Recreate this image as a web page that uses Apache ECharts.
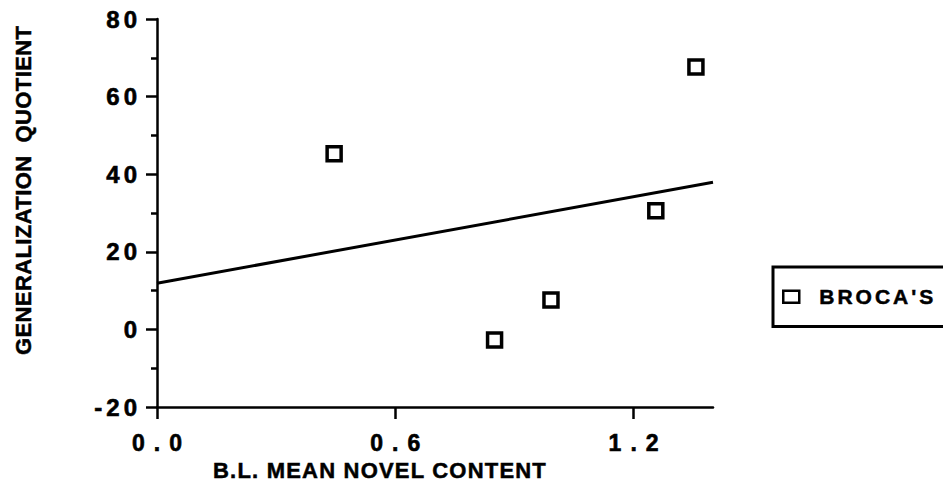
<!DOCTYPE html>
<html>
<head>
<meta charset="utf-8">
<script src="https://cdn.jsdelivr.net/npm/echarts@6/dist/echarts.min.js"></script>
<style>
  html, body { margin: 0; padding: 0; background: #fff; }
  #chart { width: 943px; height: 500px; }
</style>
</head>
<body>
<div id="chart"></div>
<script>
// Baseline mean novel content vs. generalization quotient, Broca's group
const subjectX = [0.446, 0.850, 0.992, 1.256, 1.357];
const subjectY = [45.3, -2.7, 7.6, 30.6, 67.6];

// Least-squares line as plotted (end points across the x range)
const fitX = [0, 1.4];
const fitY = [11.9, 37.9];

const xTickValues = [0, 0.6, 1.2];
const yTickValues = [-20, 0, 20, 40, 60, 80];

const seriesName = "BROCA'S";
const xTitle = 'B.L. MEAN NOVEL CONTENT';
const yTitle = 'GENERALIZATION  QUOTIENT';

const FONT = "'Liberation Sans', Arial, Helvetica, sans-serif";
const INK = '#000';

const chart = echarts.init(document.getElementById('chart'), null, { renderer: 'svg' });

const option = {
  animation: false,
  backgroundColor: '#fff',
  textStyle: { fontFamily: FONT, color: INK },
  grid: { left: 157, right: 230, top: 19, bottom: 93 },
  xAxis: {
    type: 'value',
    min: 0,
    max: 1.4,
    interval: 0.2,
    axisLine: { onZero: false, lineStyle: { color: INK, width: 2.5 } },
    axisTick: { customValues: xTickValues, length: 12, lineStyle: { color: INK, width: 2.5 } },
    axisLabel: {
      customValues: xTickValues,
      formatter: v => v.toFixed(1),
      margin: 24,
      fontSize: 23,
      fontWeight: 'bold',
      color: INK,
      fontFamily: FONT,
      textBorderColor: INK,
      textBorderWidth: 0.6
    },
    splitLine: { show: false }
  },
  yAxis: {
    type: 'value',
    min: -20,
    max: 80,
    interval: 20,
    axisLine: { show: true, onZero: false, lineStyle: { color: INK, width: 2.5 } },
    axisTick: { show: true, length: 11, lineStyle: { color: INK, width: 2.5 } },
    minorTick: { show: true, splitNumber: 2, length: 6, lineStyle: { color: INK, width: 2.5 } },
    axisLabel: {
      formatter: v => (yTickValues.indexOf(v) >= 0 ? String(v) : ''),
      margin: 20,
      fontSize: 24,
      fontWeight: 'bold',
      color: INK,
      fontFamily: FONT,
      textBorderColor: INK,
      textBorderWidth: 0.6
    },
    splitLine: { show: false }
  },
  legend: {
    data: [seriesName],
    left: 773,
    top: 267,
    orient: 'horizontal',
    padding: [19, 50, 19, 9],
    borderColor: INK,
    borderWidth: 3,
    itemWidth: 16,
    itemHeight: 12,
    icon: 'rect',
    itemStyle: { color: '#fff', borderColor: INK, borderWidth: 2.5 },
    textStyle: {
      fontSize: 21, fontWeight: 'bold', color: INK, fontFamily: FONT,
      textBorderColor: INK, textBorderWidth: 0.5,
      padding: [0, 0, 0, 15]
    }
  },
  graphic: [
    {
      type: 'text',
      x: 213,
      y: 470,
      style: {
        text: xTitle, fontSize: 22, fontWeight: 'bold', fontFamily: FONT, fill: INK,
        stroke: INK, lineWidth: 0.5, align: 'left', verticalAlign: 'middle'
      }
    },
    {
      type: 'text',
      x: 23,
      y: 355,
      rotation: Math.PI / 2,
      style: {
        text: yTitle, fontSize: 22, fontWeight: 'bold', fontFamily: FONT, fill: INK,
        stroke: INK, lineWidth: 0.5, align: 'left', verticalAlign: 'middle'
      }
    }
  ],
  series: [
    {
      name: seriesName,
      type: 'scatter',
      data: subjectX.map((x, i) => [x, subjectY[i]]),
      symbol: 'rect',
      symbolSize: 14,
      itemStyle: { color: '#fff', borderColor: INK, borderWidth: 3.5, opacity: 1 },
      z: 3
    },
    {
      name: 'fit',
      type: 'line',
      data: fitX.map((x, i) => [x, fitY[i]]),
      showSymbol: false,
      symbol: 'none',
      lineStyle: { color: INK, width: 3 },
      z: 2
    }
  ]
};

chart.setOption(option);

// Wide tracking of the typewriter-style lettering
function trackText() {
  const texts = document.querySelectorAll('#chart svg text');
  texts.forEach(t => {
    const s = (t.textContent || '').trim();
    let spacing = 0;
    if (xTickValues.map(v => v.toFixed(1)).indexOf(s) >= 0) spacing = 9;
    else if (/^-?\d+$/.test(s)) spacing = 4;
    else if (s === seriesName) spacing = 3;
    else if (s === xTitle) spacing = 1.2;
    else if (s === yTitle) spacing = 0.4;
    if (!spacing) return;
    t.setAttribute('letter-spacing', spacing);
    const anchor = t.getAttribute('text-anchor');
    if (anchor === 'middle') t.setAttribute('dx', spacing / 2);
    else if (anchor === 'end') t.setAttribute('dx', spacing);
  });
}
trackText();
chart.on('finished', trackText);
</script>
</body>
</html>
